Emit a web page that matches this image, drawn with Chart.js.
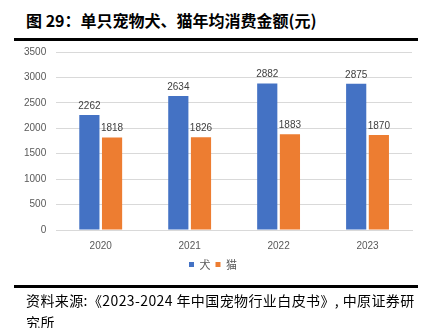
<!DOCTYPE html>
<html>
<head>
<meta charset="utf-8">
<script src="https://cdn.jsdelivr.net/npm/chart.js@4/dist/chart.umd.min.js"></script>
<style>
  html, body { margin: 0; padding: 0; background: #fff; }
  body { width: 432px; height: 328px; position: relative; overflow: hidden; font-family: "Noto Sans CJK SC", "Liberation Sans", sans-serif; }
  #title { position: absolute; left: 26px; top: 8px; font-size: 16px; font-weight: bold; color: #000; white-space: nowrap; }
  .rule { position: absolute; left: 14px; width: 404px; height: 3px; background: #000; }
  #chart-box { position: absolute; left: 0; top: 36px; width: 432px; height: 251px; }
  #note { position: absolute; left: 26px; top: 289px; width: 395px; font-size: 14px; line-height: 22px; letter-spacing: 0.4px; color: #000; }
</style>
</head>
<body>
<div id="title">图 29：单只宠物犬、猫年均消费金额(元)</div>
<div id="chart-box"><canvas id="c"></canvas></div>
<div class="rule" style="top:38px"></div>
<div class="rule" style="top:285px"></div>
<div id="note">资料来源:《2023-2024 年中国宠物行业白皮书》, 中原证券研究所</div>
<script>
var years = ['2020', '2021', '2022', '2023'];
var dogSpend = [2262, 2634, 2882, 2875];
var catSpend = [1818, 1826, 1883, 1870];
var yTicks = [0, 500, 1000, 1500, 2000, 2500, 3000, 3500];

// value labels above each bar
var barValues = {
  id: 'barValues',
  afterDatasetsDraw: function(chart) {
    var ctx = chart.ctx;
    ctx.save();
    ctx.font = '10px "Liberation Sans", sans-serif';
    ctx.fillStyle = '#404040';
    ctx.textAlign = 'center';
    ctx.textBaseline = 'bottom';
    chart.data.datasets.forEach(function(ds, i) {
      chart.getDatasetMeta(i).data.forEach(function(bar, j) {
        ctx.fillText(String(ds.data[j]), bar.x, bar.y - 4);
      });
    });
    ctx.restore();
  }
};

new Chart(document.getElementById('c'), {
  type: 'bar',
  data: {
    labels: years,
    datasets: [
      { label: '犬', data: dogSpend, backgroundColor: '#4472C4', borderWidth: 0 },
      { label: '猫', data: catSpend, backgroundColor: '#ED7D31', borderWidth: 0 }
    ]
  },
  options: {
    responsive: true,
    maintainAspectRatio: false,
    animation: false,
    categoryPercentage: 0.51,
    barPercentage: 0.89,
    layout: { padding: { left: 14, right: 20, top: 0, bottom: 7 } },
    plugins: {
      legend: {
        position: 'bottom',
        labels: { boxWidth: 5, boxHeight: 5, padding: 5, color: '#595959', font: { size: 11, family: '"Noto Sans CJK SC", sans-serif' } }
      },
      tooltip: { enabled: false }
    },
    scales: {
      x: {
        grid: { display: false },
        border: { color: '#d9d9d9' },
        ticks: { color: '#595959', font: { size: 10, family: '"Liberation Sans", sans-serif' }, padding: 2 }
      },
      y: {
        min: 0, max: 3500,
        afterBuildTicks: function(axis) { axis.ticks = yTicks.map(function(v) { return { value: v }; }); },
        grid: { color: '#d9d9d9', drawTicks: false },
        border: { display: false },
        ticks: {
          color: '#595959', font: { size: 10, family: '"Liberation Sans", sans-serif' }, padding: 10,
          callback: function(v) { return String(v); }
        }
      }
    }
  },
  plugins: [barValues]
});
</script>
</body>
</html>
